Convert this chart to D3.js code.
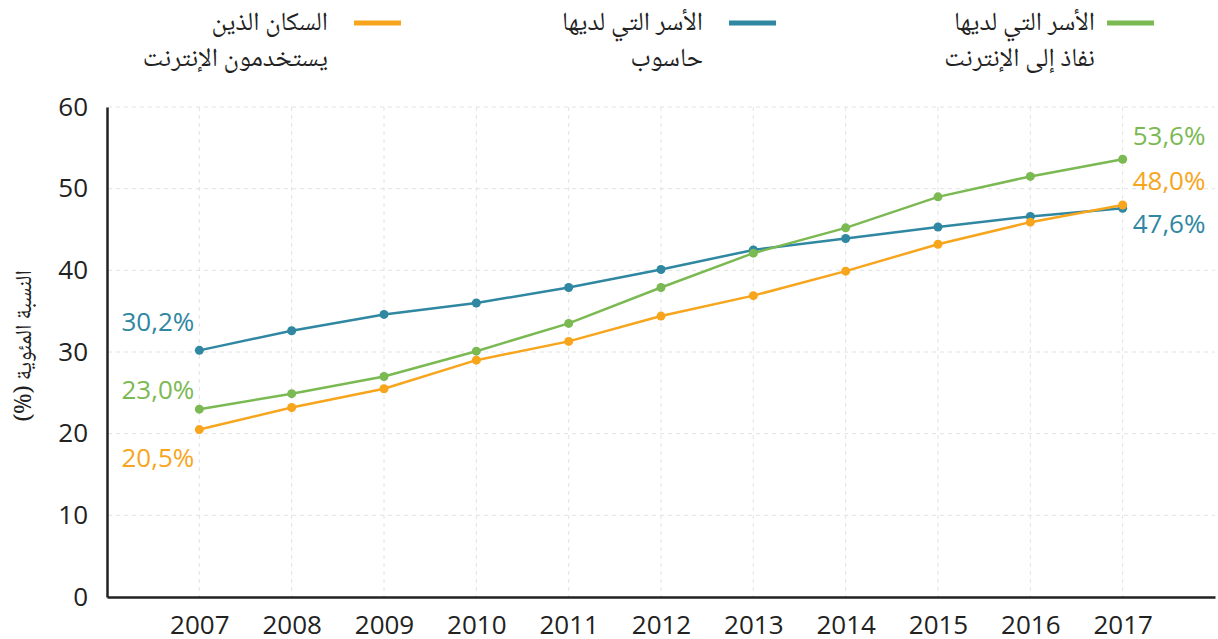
<!DOCTYPE html>
<html>
<head>
<meta charset="utf-8">
<script src="https://cdn.jsdelivr.net/npm/d3@7"></script>
<style>
  body { margin: 0; background: #fff; }
  .tick text { font-family: "Open Sans", sans-serif; }
</style>
</head>
<body>
<div id="chart"></div>
<script>
// Years on the x axis
var years = [2007, 2008, 2009, 2010, 2011, 2012, 2013, 2014, 2015, 2016, 2017];

// Population using the internet (%)
var internetUsers = [20.5, 23.2, 25.5, 29.0, 31.3, 34.4, 36.9, 39.9, 43.2, 45.9, 48.0];

// Households with a computer (%)
var computerHouseholds = [30.2, 32.6, 34.6, 36.0, 37.9, 40.1, 42.5, 43.9, 45.3, 46.6, 47.6];

// Households with internet access (%)
var internetHouseholds = [23.0, 24.9, 27.0, 30.1, 33.5, 37.9, 42.1, 45.2, 49.0, 51.5, 53.6];

// Y tick values
var yTicks = [0, 10, 20, 30, 40, 50, 60];

// Series names (legend, two lines each)
var seriesNames = [
  ["السكان الذين", "يستخدمون الإنترنت"],
  ["الأسر التي لديها", "حاسوب"],
  ["الأسر التي لديها", "نفاذ إلى الإنترنت"]
];

var yTitle = "النسبة المئوية (%)";

var colors = ["#f7a51c", "#2f87a1", "#7bb953"];

var series = [internetUsers, computerHouseholds, internetHouseholds];

var arabicFont = "'Noto Naskh Arabic', 'Amiri', 'Noto Serif', 'DejaVu Sans', serif";

// Chart size
var width = 1218;
var height = 639;

var svg = d3.select("#chart")
  .append("svg")
  .attr("width", width)
  .attr("height", height);

// Scales
var xScale = d3.scaleLinear()
  .domain([2006, 2018])
  .range([107, 1215]);

var yScale = d3.scaleLinear()
  .domain([0, 60])
  .range([597, 107]);

// Grid lines
svg.append("g")
  .selectAll("line")
  .data(yTicks.slice(1))
  .enter()
  .append("line")
  .attr("x1", 108)
  .attr("x2", 1215)
  .attr("y1", function(d) { return yScale(d); })
  .attr("y2", function(d) { return yScale(d); })
  .attr("stroke", "#e2e2e2")
  .attr("stroke-width", 1)
  .attr("stroke-dasharray", "4,4");

svg.append("g")
  .selectAll("line")
  .data(years)
  .enter()
  .append("line")
  .attr("x1", function(d) { return xScale(d); })
  .attr("x2", function(d) { return xScale(d); })
  .attr("y1", 107)
  .attr("y2", 597)
  .attr("stroke", "#e2e2e2")
  .attr("stroke-width", 1)
  .attr("stroke-dasharray", "4,4");

// Axes
var xAxis = d3.axisBottom(xScale)
  .tickValues(years)
  .tickFormat(d3.format("d"))
  .tickSize(0)
  .tickPadding(19);

var yAxis = d3.axisLeft(yScale)
  .tickValues(yTicks)
  .tickSize(0)
  .tickPadding(19);

var gx = svg.append("g")
  .attr("transform", "translate(0,597)")
  .call(xAxis);

gx.select(".domain").attr("stroke", "#222").attr("stroke-width", 2.5);
gx.selectAll("text").attr("font-size", "26px").attr("fill", "#222");

var gy = svg.append("g")
  .attr("transform", "translate(107,0)")
  .call(yAxis);

gy.select(".domain").attr("stroke", "#222").attr("stroke-width", 2.5);
gy.selectAll("text").attr("font-size", "26px").attr("fill", "#222");

// Y axis title
svg.append("text")
  .attr("transform", "translate(31,346) rotate(-90)")
  .attr("text-anchor", "middle")
  .attr("direction", "rtl")
  .attr("font-family", arabicFont)
  .attr("font-size", "23px")
  .attr("fill", "#222")
  .text(yTitle);

// Lines and points
var line = d3.line()
  .x(function(d, i) { return xScale(years[i]); })
  .y(function(d) { return yScale(d); });

// blue first, then green, orange on top
[1, 2, 0].forEach(function(s) {
  svg.append("path")
    .datum(series[s])
    .attr("d", line)
    .attr("fill", "none")
    .attr("stroke", colors[s])
    .attr("stroke-width", 2.5);

  svg.append("g")
    .selectAll("circle")
    .data(series[s])
    .enter()
    .append("circle")
    .attr("cx", function(d, i) { return xScale(years[i]); })
    .attr("cy", function(d) { return yScale(d); })
    .attr("r", 4.5)
    .attr("fill", colors[s]);
});

// End labels
var fmt = function(v) { return v.toFixed(1).replace(".", ",") + "%"; };

var leftOffsets = [37, -19, -10];
var rightOffsets = [-15, 25, -14];

series.forEach(function(s, k) {
  svg.append("text")
    .attr("x", xScale(2007) - 5)
    .attr("y", yScale(s[0]) + leftOffsets[k])
    .attr("text-anchor", "end")
    .attr("font-family", "Open Sans, sans-serif")
    .attr("font-size", "26px")
    .attr("fill", colors[k])
    .text(fmt(s[0]));

  svg.append("text")
    .attr("x", xScale(2017) + 10)
    .attr("y", yScale(s[s.length - 1]) + rightOffsets[k])
    .attr("text-anchor", "start")
    .attr("font-family", "Open Sans, sans-serif")
    .attr("font-size", "26px")
    .attr("fill", colors[k])
    .text(fmt(s[s.length - 1]));
});

// Legend
var legendX = [401, 776, 1154];
var legendTextX = [328, 703, 1095];

seriesNames.forEach(function(name, k) {
  var g = svg.append("g");
  g.append("line")
    .attr("x1", legendX[k] - 47)
    .attr("x2", legendX[k])
    .attr("y1", 23)
    .attr("y2", 23)
    .attr("stroke", colors[k])
    .attr("stroke-width", 5);

  name.forEach(function(t, j) {
    g.append("text")
      .attr("x", legendTextX[k])
      .attr("y", 30 + j * 36)
      .attr("text-anchor", "end")
      .attr("font-family", arabicFont)
      .attr("font-size", "26px")
      .attr("fill", "#222")
      .text(t);
  });
});
</script>
</body>
</html>
